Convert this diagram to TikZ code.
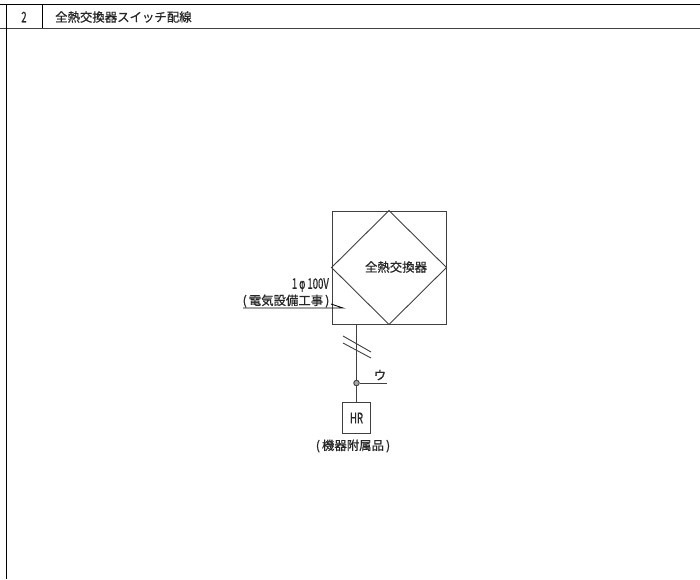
\documentclass[tikz,border=0pt]{standalone}
\usepackage{fontspec}
\setmainfont[RawFeature={embolden=0.7}]{Noto Sans CJK JP}
\newfontfamily\phifont[RawFeature={embolden=0.7}]{DejaVu Sans}
\begin{document}
\begin{tikzpicture}[x=1pt,y=-1pt]

\tikzset{frame/.style = {draw=black,line width=0.9pt}}
\tikzset{wire/.style = {draw=black!75,line width=0.9pt}}
\tikzset{box/.style = {shape=rectangle,draw=black!75,line width=0.9pt,inner sep=0pt}}
\tikzset{label/.style = {inner sep=0pt,font=\fontsize{12.4}{13}\selectfont,text=black!85}}
\tikzset{latin/.style = {inner sep=0pt,font=\fontsize{14.5}{15}\selectfont,text=black!85,xscale=0.66,transform shape}}
\useasboundingbox (0,0) rectangle (700,579);
%frame
\coordinate (topl) at (0,4);
\coordinate (topr) at (700,4);
\coordinate (headl) at (0,28);
\coordinate (headr) at (700,28);
\coordinate (sidet) at (6,4);
\coordinate (sideb) at (6,579);
\coordinate (cellt) at (42,4);
\coordinate (cellb) at (42,28);
\draw [frame] (topl) -- (topr);
\draw [wire] (headl) -- (headr);
\draw [frame] (sidet) -- (sideb);
\draw [frame] (cellt) -- (cellb);
\node[latin] (num) at (24,17) {2};
\node[label, anchor=west] (title) at (55,17) {全熱交換器スイッチ配線};
%verticies
\node[box, minimum width=114pt, minimum height=113pt] (unit) at (389,267.5) {};
\node[label] (unitname) at (396,267) {全熱交換器};
\node[box, minimum width=28pt, minimum height=31pt] (hr) at (356.5,417.5) {};
\node[latin] (hrname) at (356.5,418) {HR};
\node[label] (hrnote) at (353,446) {(\hspace{2pt}機器附属品\hspace{2pt})};
\node[shape=circle,draw=black!75,fill=black!35,line width=0.9pt,minimum size=5.5pt,inner sep=0pt] (jct) at (356.5,383) {};
\coordinate (feed) at (356.5,324);
\coordinate (jctend) at (387,383);
\node[label] (wirename) at (380,375) {ウ};
%edges
\draw [wire] (unit.north) -- (unit.east) -- (unit.south) -- (unit.west) -- cycle;
\draw [wire] (feed) -- (jct);
\draw [wire] (jct) -- (hr);
\draw [wire] (jct) -- (jctend);
%ticks
\coordinate (ticka) at (343,336);
\coordinate (tickb) at (371,352);
\coordinate (tickc) at (343,343);
\coordinate (tickd) at (371,358);
\draw [wire] (ticka) -- (tickb);
\draw [wire] (tickc) -- (tickd);
%leader
\node[latin, anchor=east] (volt) at (329,285) {1\hspace{3pt}{\phifont φ}\hspace{3pt}100V};
\node[label] (note) at (286,301) {(\hspace{2pt}電気設備工事\hspace{2pt})};
\coordinate (leadl) at (243,308);
\coordinate (leadr) at (343,308);
\coordinate (leadk) at (331,304);
\draw [draw=black,line width=0.9pt] (leadl) -- (leadr) -- (leadk);

\end{tikzpicture}
\end{document}
